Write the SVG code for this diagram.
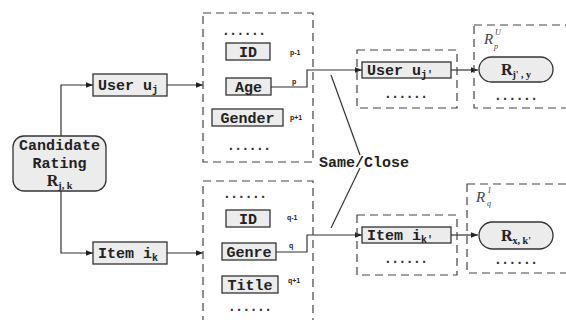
<svg xmlns="http://www.w3.org/2000/svg" width="566" height="320" viewBox="0 0 566 320">
  <defs>
    <marker id="arrow" viewBox="0 0 10 10" refX="10" refY="5" markerWidth="7" markerHeight="7" markerUnits="userSpaceOnUse" orient="auto">
      <path d="M0,1 L10,5 L0,9 Z" fill="#222"/>
    </marker>
    <style>
      .box { fill: #ececec; stroke: #333; stroke-width: 1.3; }
      .group { fill: none; stroke: #444; stroke-width: 1.2; stroke-dasharray: 8 5; }
      .link { fill: none; stroke: #333; stroke-width: 1.2; }
      .arrow { marker-end: url(#arrow); }
      .label { font-family: "Liberation Mono", "DejaVu Sans Mono", monospace; font-weight: bold; font-size: 15px; fill: #222; }
      .sub { font-size: 10px; }
      .serif { font-family: "Liberation Serif", "DejaVu Serif", serif; font-weight: bold; font-size: 16px; fill: #222; }
      .dots { font-family: "DejaVu Sans Mono", monospace; font-weight: bold; font-size: 12px; fill: #333; }
      .idx { font-family: "Liberation Sans", "DejaVu Sans", sans-serif; font-weight: bold; font-size: 7px; fill: #222; }
      .set { font-family: "Liberation Serif", "DejaVu Serif", serif; font-style: italic; font-size: 15px; fill: #444; }
      .setsm { font-size: 8px; }
    </style>
  </defs>

  <!-- connectors -->
  <g id="connectors">
    <path class="link arrow" d="M61,136 V85 H93"/>
    <path class="link arrow" d="M61,191 V253 H93"/>
    <path class="link arrow" d="M167,85 H203"/>
    <path class="link arrow" d="M167,253 H203"/>
    <path class="link arrow" d="M271,87 H307 V70 H362"/>
    <path class="link arrow" d="M276,252 H307 V235 H362"/>
    <path class="link arrow" d="M451,70 H478"/>
    <path class="link arrow" d="M451,235 H478"/>
    <path class="link" d="M331,75 L360,155"/>
    <path class="link" d="M360,168 L331,228"/>
  </g>

  <!-- candidate rating -->
  <g id="candidate">
    <rect class="box" x="13" y="136" width="93" height="55" rx="11"/>
    <text class="label" x="59.5" y="150" text-anchor="middle">Candidate</text>
    <text class="label" x="59.5" y="168" text-anchor="middle">Rating</text>
    <text class="serif" x="59.5" y="186" text-anchor="middle">R<tspan class="sub" dy="3">j, k</tspan></text>
  </g>

  <!-- user and item -->
  <g id="user">
    <rect class="box" x="93" y="74" width="74" height="22"/>
    <text class="label" x="98" y="90">User u<tspan class="sub" dy="3">j</tspan></text>
  </g>
  <g id="item">
    <rect class="box" x="93" y="242" width="74" height="22"/>
    <text class="label" x="98" y="258">Item i<tspan class="sub" dy="3">k</tspan></text>
  </g>

  <!-- user attributes -->
  <g id="user-attributes">
    <rect class="group" x="203" y="13" width="110" height="149"/>
    <text class="dots" x="244" y="35" text-anchor="middle">......</text>
    <rect class="box" x="226" y="43" width="44" height="17"/>
    <text class="label" x="248" y="57" text-anchor="middle">ID</text>
    <text class="idx" x="290" y="55">p-1</text>
    <rect class="box" x="226" y="78" width="45" height="17"/>
    <text class="label" x="248.5" y="92" text-anchor="middle">Age</text>
    <text class="idx" x="292" y="84">p</text>
    <rect class="box" x="212" y="109" width="71" height="17"/>
    <text class="label" x="247.5" y="123" text-anchor="middle">Gender</text>
    <text class="idx" x="290" y="120">p+1</text>
    <text class="dots" x="249" y="150" text-anchor="middle">......</text>
  </g>

  <!-- item attributes -->
  <g id="item-attributes">
    <rect class="group" x="203" y="181" width="110" height="150"/>
    <text class="dots" x="245" y="198" text-anchor="middle">......</text>
    <rect class="box" x="226" y="210" width="44" height="17"/>
    <text class="label" x="248" y="224" text-anchor="middle">ID</text>
    <text class="idx" x="287" y="220">q-1</text>
    <rect class="box" x="222" y="243" width="54" height="17"/>
    <text class="label" x="249" y="257" text-anchor="middle">Genre</text>
    <text class="idx" x="289" y="248">q</text>
    <rect class="box" x="222" y="276" width="56" height="17"/>
    <text class="label" x="250" y="290" text-anchor="middle">Title</text>
    <text class="idx" x="288" y="283">q+1</text>
    <text class="dots" x="250" y="311" text-anchor="middle">......</text>
  </g>

  <text id="same-close" class="label" x="364" y="167" text-anchor="middle">Same/Close</text>

  <!-- matched user / item -->
  <g id="user-match">
    <rect class="group" x="357" y="50" width="100" height="58"/>
    <rect class="box" x="362" y="62" width="89" height="16"/>
    <text class="label" x="367" y="75">User u<tspan class="sub" dy="3">j'</tspan></text>
    <text class="dots" x="406" y="98" text-anchor="middle">......</text>
  </g>
  <g id="item-match">
    <rect class="group" x="357" y="215" width="100" height="60"/>
    <rect class="box" x="362" y="227" width="89" height="16"/>
    <text class="label" x="367" y="240">Item i<tspan class="sub" dy="3">k'</tspan></text>
    <text class="dots" x="406" y="263" text-anchor="middle">......</text>
  </g>

  <!-- rating sets -->
  <g id="user-ratings">
    <rect class="group" x="474" y="25" width="110" height="83"/>
    <text class="set" x="484" y="44">R</text>
    <text class="set setsm" x="495" y="35">U</text>
    <text class="set setsm" x="494" y="49">p</text>
    <rect class="box" x="479" y="57" width="74" height="25" rx="12.5"/>
    <text class="serif" x="516" y="75" text-anchor="middle">R<tspan class="sub" dy="3">j' , y</tspan></text>
    <text class="dots" x="516" y="100" text-anchor="middle">......</text>
  </g>
  <g id="item-ratings">
    <rect class="group" x="467" y="184" width="110" height="89"/>
    <text class="set" x="476" y="202">R</text>
    <text class="set setsm" x="488" y="193">I</text>
    <text class="set setsm" x="487" y="206">q</text>
    <rect class="box" x="479" y="222" width="74" height="27" rx="13.5"/>
    <text class="serif" x="516" y="241" text-anchor="middle">R<tspan class="sub" dy="3">x, k'</tspan></text>
    <text class="dots" x="516" y="264" text-anchor="middle">......</text>
  </g>
</svg>
